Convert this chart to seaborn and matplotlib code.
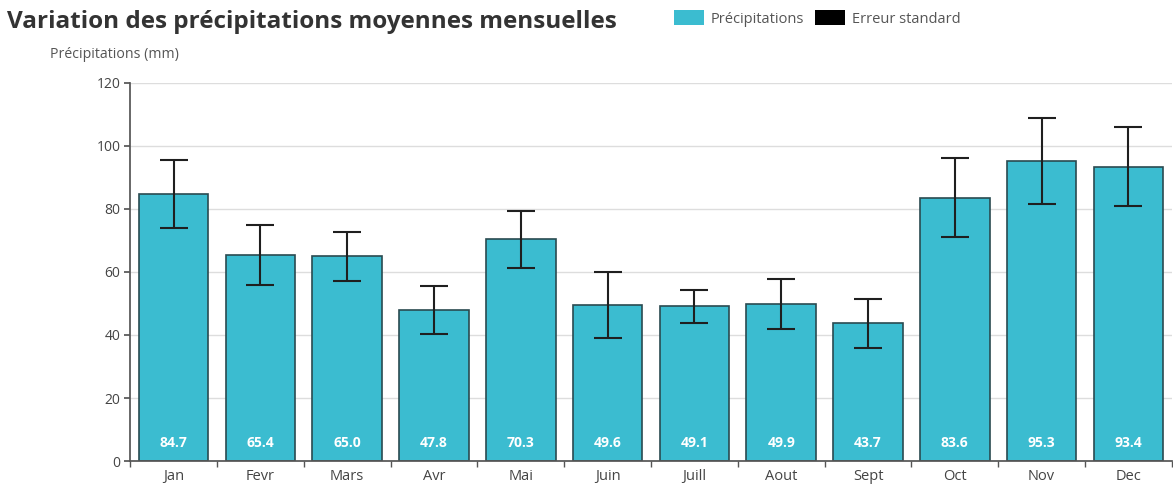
import matplotlib
matplotlib.use("Agg")
import matplotlib.pyplot as plt
import seaborn as sns
import pandas as pd
import numpy as np
from matplotlib.patches import Patch

months = ["Jan", "Fevr", "Mars", "Avr", "Mai", "Juin", "Juill", "Aout", "Sept", "Oct", "Nov", "Dec"]
precip = [84.7, 65.4, 65.0, 47.8, 70.3, 49.6, 49.1, 49.9, 43.7, 83.6, 95.3, 93.4]
errors = [10.8, 9.4, 7.8, 7.6, 9.0, 10.5, 5.2, 8.0, 7.7, 12.6, 13.6, 12.5]
yticks = [0, 20, 40, 60, 80, 100, 120]

df = pd.DataFrame({"mois": months, "precip": precip, "err": errors})

sns.set_theme(style="white")
plt.rcParams["font.family"] = ["Open Sans", "DejaVu Sans"]

fig = plt.figure(figsize=(11.73, 4.9), dpi=100)
ax = fig.add_axes([0.111, 0.059, 0.888, 0.772])

bar_color = "#3BBCD0"
sns.barplot(data=df, x="mois", y="precip", color=bar_color, saturation=1,
            width=0.8, edgecolor="#2a4a50", linewidth=1.2, errorbar=None, ax=ax, zorder=2)
ax.errorbar(np.arange(len(months)), precip, yerr=errors, fmt="none",
            ecolor="#1f1f1f", elinewidth=1.5, capsize=10, capthick=1.5, zorder=3)

for i, v in enumerate(precip):
    ax.text(i, 3.5, f"{v:.1f}", ha="center", va="bottom", color="white",
            fontsize=10, fontweight="bold", zorder=4)

ax.set_ylim(0, 120)
ax.set_xlim(-0.5, len(months) - 0.5)
ax.set_yticks(yticks)
ax.set_yticklabels([str(t) for t in yticks], fontsize=10, color="#444444")
ax.set_xticks(np.arange(len(months)))
ax.set_xticklabels(months, fontsize=10.5, color="#444444")
ax.tick_params(axis="x", length=0, pad=6)
ax.tick_params(axis="y", length=4, color="#555555", left=True, pad=3)
ax.set_xticks(np.arange(-0.5, len(months) - 0.4, 1.0), minor=True)
ax.tick_params(axis="x", which="minor", length=4, color="#555555", bottom=True)
ax.yaxis.grid(True, color="#dddddd", linewidth=1, zorder=0)
ax.set_axisbelow(True)
for s in ["top", "right"]:
    ax.spines[s].set_visible(False)
ax.spines["left"].set_color("#555555")
ax.spines["bottom"].set_color("#555555")
ax.set_xlabel("")
ax.set_ylabel("")

fig.text(0.006, 0.955, "Variation des précipitations moyennes mensuelles", fontsize=17.5,
         fontweight="bold", color="#333333", va="center", ha="left")
fig.text(0.043, 0.888, "Précipitations (mm)", fontsize=10.2, color="#555555", va="center", ha="left")

handles = [Patch(facecolor=bar_color, edgecolor="none", label="Précipitations"),
           Patch(facecolor="black", edgecolor="none", label="Erreur standard")]
fig.legend(handles=handles, loc="center left", bbox_to_anchor=(0.5745, 0.962), ncol=2,
           frameon=False, fontsize=10.5, handlelength=2.05, handleheight=1.2,
           columnspacing=0.8, handletextpad=0.45, labelcolor="#555555",
           borderaxespad=0, borderpad=0)

fig.savefig("out.png", dpi=100)
